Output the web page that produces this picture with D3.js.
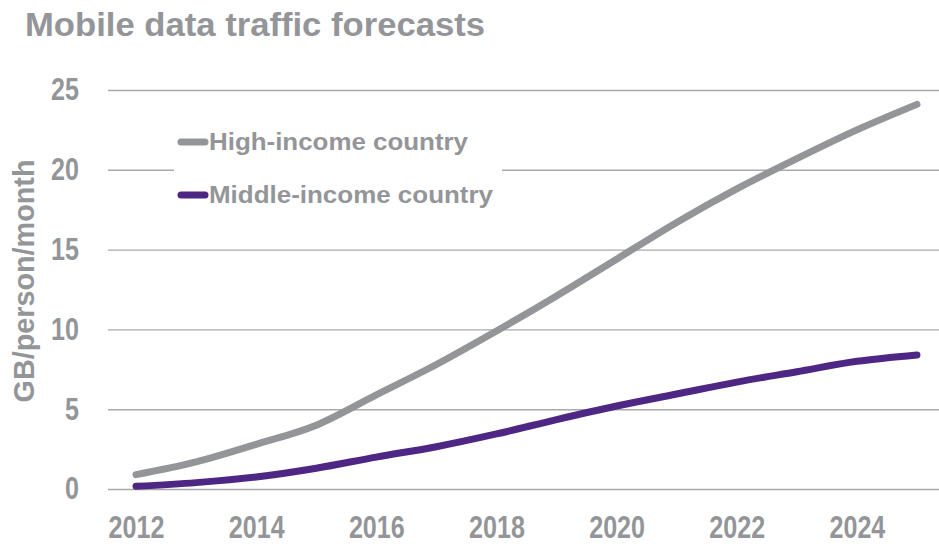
<!DOCTYPE html>
<html>
<head>
<meta charset="utf-8">
<script src="https://cdn.jsdelivr.net/npm/d3@7"></script>
<style>
  html, body { margin: 0; padding: 0; background: #fff; }
  svg { display: block; }
  .lbl { font-family: "Liberation Sans", Arial, sans-serif; font-weight: bold; }
</style>
</head>
<body>
<div id="chart"></div>
<script>
// data
var years = [2012, 2013, 2014, 2015, 2016, 2017, 2018, 2019, 2020, 2021, 2022, 2023, 2024, 2025];
var highIncome = [0.9, 1.7, 2.8, 4.0, 5.9, 7.8, 9.9, 12.1, 14.4, 16.7, 18.8, 20.7, 22.5, 24.1];
var middleIncome = [0.17, 0.4, 0.75, 1.3, 2.0, 2.65, 3.45, 4.35, 5.2, 5.95, 6.7, 7.35, 8.0, 8.4];
var yTicks = [0, 5, 10, 15, 20, 25];
var xTickLabels = [2012, 2014, 2016, 2018, 2020, 2022, 2024];
var seriesNames = ['High-income country', 'Middle-income country'];
var seriesColors = ['#939598', '#4e2683'];

var width = 939, height = 547;
var textGray = '#939598';

// squeeze text horizontally (the original uses a narrow face)
function condense(sel, factor) {
  sel.each(function() {
    var len = this.getComputedTextLength();
    d3.select(this)
      .attr('textLength', len * factor)
      .attr('lengthAdjust', 'spacingAndGlyphs');
  });
}

var svg = d3.select('#chart')
  .append('svg')
  .attr('width', width)
  .attr('height', height);

var x = d3.scalePoint()
  .domain(years)
  .range([106, 947])
  .padding(0.5);

var y = d3.scaleLinear()
  .domain([0, 25])
  .range([489, 90]);

// title
svg.append('text')
  .attr('class', 'lbl')
  .attr('x', 25)
  .attr('y', 36)
  .attr('font-size', 34)
  .attr('fill', textGray)
  .attr('textLength', 460)
  .attr('lengthAdjust', 'spacingAndGlyphs')
  .text('Mobile data traffic forecasts');

// gridlines + y labels
var yAxis = d3.axisLeft(y)
  .tickValues(yTicks)
  .tickSize(-(width - 108))
  .tickPadding(29);

var gy = svg.append('g')
  .attr('transform', 'translate(108,0)')
  .call(yAxis);
gy.select('.domain').remove();
gy.selectAll('.tick line')
  .attr('stroke', '#a7a9ac')
  .attr('stroke-width', 1.4);
gy.selectAll('.tick text')
  .attr('class', 'lbl')
  .attr('font-size', 31)
  .attr('fill', textGray)
  .call(condense, 0.81);

// x labels
var xAxis = d3.axisBottom(x)
  .tickValues(xTickLabels)
  .tickSize(0)
  .tickPadding(0);

var gx = svg.append('g')
  .attr('transform', 'translate(0,516)')
  .call(xAxis);
gx.select('.domain').remove();
gx.selectAll('.tick text')
  .attr('class', 'lbl')
  .attr('font-size', 31)
  .attr('fill', textGray)
  .attr('dy', '0.71em')
  .call(condense, 0.81);

// y title
svg.append('text')
  .attr('class', 'lbl')
  .attr('transform', 'translate(34,281) rotate(-90)')
  .attr('text-anchor', 'middle')
  .attr('font-size', 30)
  .attr('fill', textGray)
  .attr('textLength', 243)
  .attr('lengthAdjust', 'spacingAndGlyphs')
  .text('GB/person/month');

// lines
var line = d3.line()
  .x(function(d, i) { return x(years[i]); })
  .y(function(d) { return y(d); })
  .curve(d3.curveMonotoneX);

[highIncome, middleIncome].forEach(function(series, i) {
  svg.append('path')
    .datum(series)
    .attr('fill', 'none')
    .attr('stroke', seriesColors[i])
    .attr('stroke-width', 7)
    .attr('stroke-linecap', 'round')
    .attr('stroke-linejoin', 'round')
    .attr('d', line);
});

// legend
var legend = svg.append('g');
legend.append('rect')
  .attr('x', 174)
  .attr('y', 122)
  .attr('width', 328)
  .attr('height', 96)
  .attr('fill', '#fff');

var legendRows = [142, 195];
var legendWidths = [259, 284];
seriesNames.forEach(function(name, i) {
  legend.append('line')
    .attr('x1', 181).attr('x2', 205)
    .attr('y1', legendRows[i]).attr('y2', legendRows[i])
    .attr('stroke', seriesColors[i])
    .attr('stroke-width', 7)
    .attr('stroke-linecap', 'round');
  legend.append('text')
    .attr('class', 'lbl')
    .attr('x', 209)
    .attr('y', legendRows[i] + 7.5)
    .attr('font-size', 24)
    .attr('fill', textGray)
    .attr('textLength', legendWidths[i])
    .attr('lengthAdjust', 'spacingAndGlyphs')
    .text(name);
});
</script>
</body>
</html>
